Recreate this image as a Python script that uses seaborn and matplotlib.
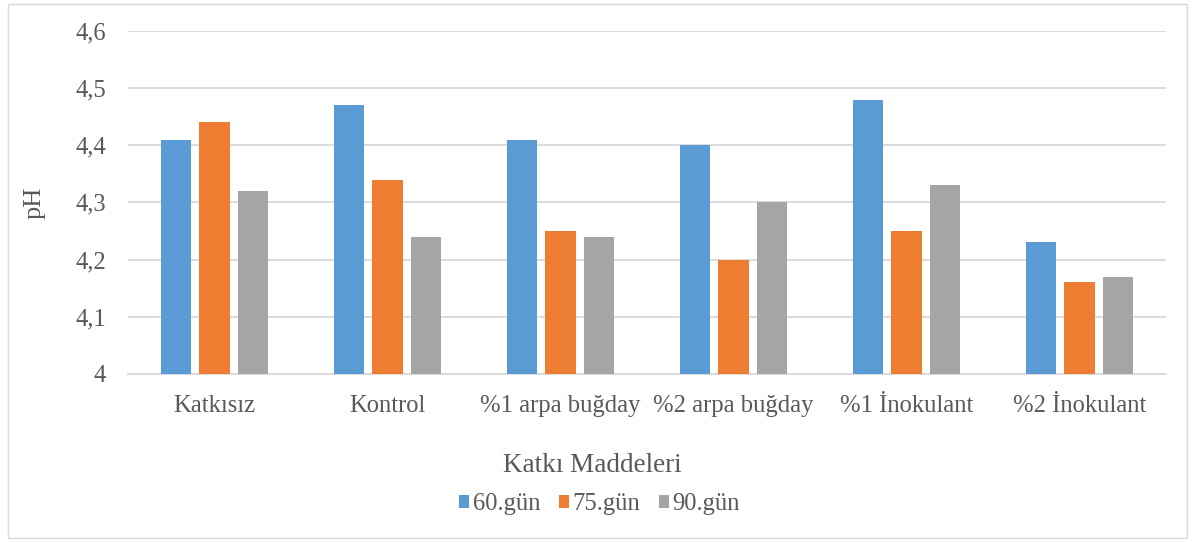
import pandas as pd
import matplotlib
matplotlib.use("Agg")
import matplotlib.pyplot as plt
import seaborn as sns
from matplotlib.patches import Rectangle
from matplotlib.ticker import FuncFormatter

categories = ["Katkısız", "Kontrol", "%1 arpa buğday", "%2 arpa buğday",
              "%1 İnokulant", "%2 İnokulant"]
series = ["60.gün", "75.gün", "90.gün"]
gun60 = [4.41, 4.47, 4.41, 4.40, 4.48, 4.23]
gun75 = [4.44, 4.34, 4.25, 4.20, 4.25, 4.16]
gun90 = [4.32, 4.24, 4.24, 4.30, 4.33, 4.17]
colors = ["#5B9BD5", "#ED7D31", "#A5A5A5"]

df = pd.DataFrame({
    "kategori": categories * 3,
    "seri": [s for s in series for _ in categories],
    "pH": gun60 + gun75 + gun90,
})

sns.set_style("white")
plt.rcParams["font.family"] = ["Liberation Serif", "DejaVu Serif"]
text_col = "#595959"

fig = plt.figure(figsize=(11.94, 5.42), dpi=100)
ax = fig.add_axes([128 / 1194, 0.31, 1038 / 1194, 0.633])

sns.barplot(data=df, x="kategori", y="pH", hue="seri", palette=colors,
            saturation=1, width=0.67, gap=0.22, ax=ax, zorder=3, linewidth=0)

ax.set_ylim(4, 4.6)
ax.set_yticks([4.0, 4.1, 4.2, 4.3, 4.4, 4.5, 4.6])
ax.yaxis.set_major_formatter(FuncFormatter(
    lambda v, p: "4" if abs(v - 4) < 1e-9 else f"{v:.1f}".replace(".", ",")))
ax.grid(axis="y", color="#D9D9D9", linewidth=1.3, zorder=0)
for s in ["top", "right", "left"]:
    ax.spines[s].set_visible(False)
ax.spines["bottom"].set_color("#D9D9D9")
ax.spines["bottom"].set_linewidth(1.3)
ax.tick_params(axis="both", length=0, labelsize=17.7, colors=text_col)
ax.tick_params(axis="y", pad=16)
ax.tick_params(axis="x", pad=15)

ax.set_xlabel("")
ax.set_ylabel("pH", fontsize=19, color=text_col, labelpad=21)
fig.text(0.496, 1 - 466 / 542, "Katkı Maddeleri", fontsize=19.5, color=text_col,
         ha="center", va="center")

handles, labels = ax.get_legend_handles_labels()
ax.get_legend().remove()
fig.legend(handles, labels, loc="center", bbox_to_anchor=(0.502, 1 - 504 / 542),
           ncol=3, frameon=False, fontsize=17.7, handlelength=0.42,
           handleheight=0.42, handletextpad=0.15, columnspacing=0.75,
           labelcolor=text_col)

fig.patches.append(Rectangle((8 / 1194, 4 / 542), 1179 / 1194, 534 / 542,
                             transform=fig.transFigure, fill=False,
                             edgecolor="#D9D9D9", linewidth=1))

fig.savefig("out.png", dpi=100)
